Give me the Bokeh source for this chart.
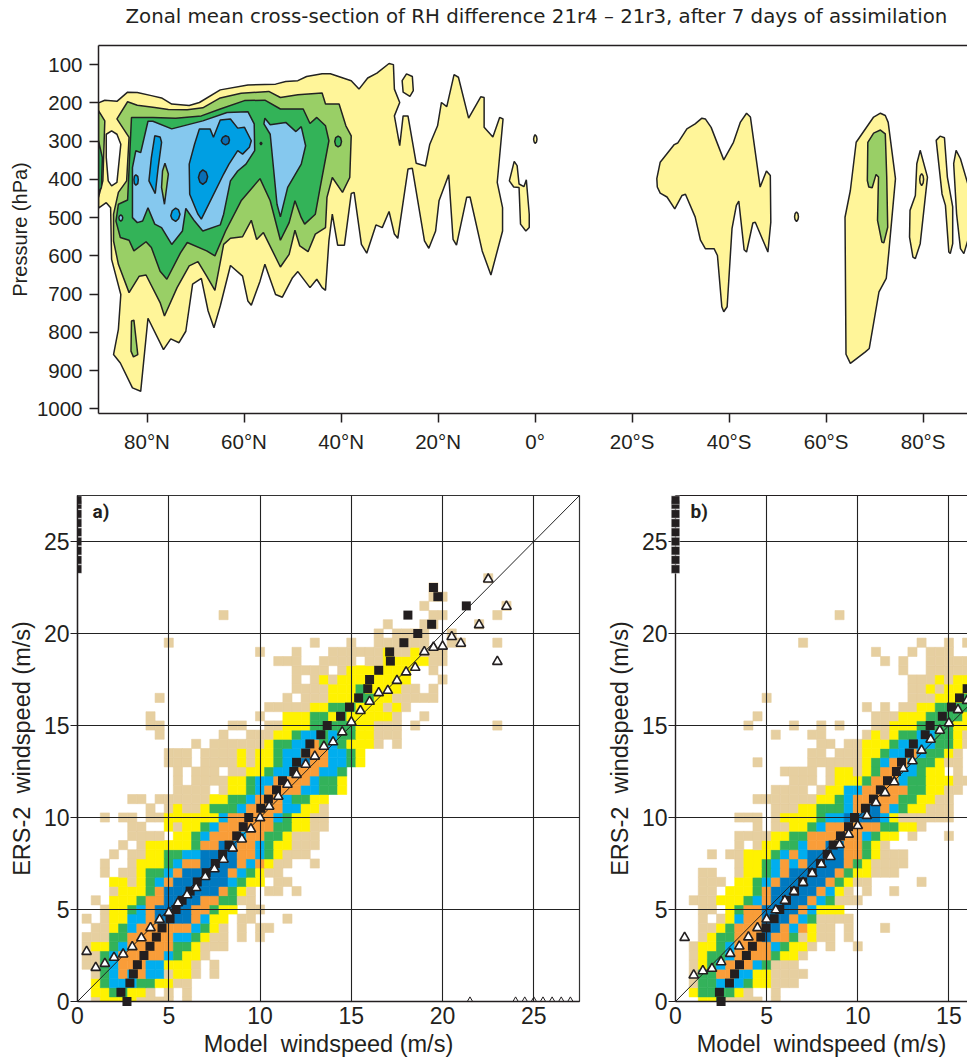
from bokeh.plotting import figure
from bokeh.layouts import column, row
from bokeh.embed import file_html
from bokeh.resources import INLINE
from bokeh.models import (Range1d, FixedTicker, LinearAxis, Label, Slope, Title, ColumnDataSource)

TITLE = "Zonal mean cross-section of RH difference 21r4 \u2013 21r3, after 7 days of assimilation"
PRESSURE_TICKS = [100, 200, 300, 400, 500, 600, 700, 800, 900, 1000]
LAT_TICKS = {80: "80\u00b0N", 60: "60\u00b0N", 40: "40\u00b0N", 20: "20\u00b0N", 0: "0\u00b0",
             -20: "20\u00b0S", -40: "40\u00b0S", -60: "60\u00b0S", -80: "80\u00b0S"}
WIND_TICKS = [0, 5, 10, 15, 20, 25]

YEL, LGR, GRN, LBL, BLU, DBL, WHT = "#FFF599", "#99CF66", "#33B358", "#85C8EE", "#009FE3", "#0A6EB5", "#FFFFFF"

yellow_main = [(90,200),(88.7,193),(86.2,196),(84,172),(82,173),(79.1,181),(77,187),(74.9,203),(71.3,207),(69.2,199),(64.9,166),(59.2,153),(53.5,151),(51.4,144),(48.9,142),(47.1,131),(43.9,124),(42.2,124),(37.9,142),(36.3,164),(34.5,135),(32.6,122),(30.1,97),(29.2,100),(29,164),(27.9,199),(29,234),(27.9,312),(27.2,234),(26.2,234),(24.5,358),(22.6,365),(21.7,308),(20.1,260),(19.3,199),(18.2,210),(16.7,126),(15.8,133),(13.7,240),(11.2,184),(10.5,186),(10.5,264),(8.7,289),(7.3,238),(6.6,242),(7.8,408),(6.7,474),(6.7,535),(9.1,650),(10.9,587),(13.4,446),(14.1,447),(16.2,572),(16.9,557),(17.8,388),(19.8,456),(20.5,535),(21.9,580),(22.8,561),(25.3,371),(26.2,373),(28.3,554),(29,543),(30.1,484),(31.5,526),(32.8,519),(34.7,593),(35.8,570),(37.3,434),(37.9,437),(39.3,572),(40.7,572),(41.8,491),(42.5,561),(43.2,690),(43.9,683),(45,661),(46.4,683),(48.9,641),(50,657),(52.1,708),(53.5,701),(55.7,622),(56.7,666),(58.5,729),(59.2,718),(60.3,653),(62.8,625),(64.9,731),(66.2,788),(67.4,744),(68.8,659),(70.6,674),(72,797),(73.4,827),(75.1,817),(76.6,845),(79.8,763),(81.3,954),(83,945),(85.5,880),(86.9,858),(85.9,792),(85.4,701),(87.3,609),(87.5,474),(88.4,461),(90,475)]
white_hole = [(88.4,282),(87.3,273),(86.2,282),(85.4,308),(86.2,408),(87.3,417),(88,404),(88.4,343)]
yellow_a = [(27.4,142),(26.5,124),(25.3,131),(25.1,168),(25.8,183),(27.2,172)]
yellow_b = [(5.3,404),(4.3,353),(3.7,364),(3.3,412),(2.3,419),(1.8,401),(1.2,491),(1.2,526),(1.9,535),(3,517),(3.3,421),(4.4,420)]
yellow_c = [(0,283),(-0.3,288),(-0.4,295),(-0.3,302),(0,306),(0.2,302),(0.3,295),(0.2,288)]
yellow_d = [(-25.1,398),(-25.8,355),(-28.7,309),(-29.4,305),(-31.3,268),(-33,255),(-34.4,240),(-35.1,242),(-36.3,264),(-38.9,349),(-40.9,303),(-42.3,251),(-43.6,227),(-44.4,237),(-46.4,420),(-47.7,378),(-48.5,390),(-48.6,512),(-48,590),(-45.4,512),(-44.9,514),(-43.6,590),(-43.1,584),(-42,457),(-41.5,468),(-40.6,529),(-39.6,733),(-38.9,746),(-38.5,733),(-37.6,599),(-36.9,581),(-35.1,581),(-34.1,559),(-33,498),(-31,439),(-30.3,442),(-28.8,477),(-27.2,446),(-25.8,436),(-25.2,420)]
yellow_e = [(-53.9,485),(-54.2,490),(-54.3,498),(-54.2,505),(-53.9,510),(-53.6,505),(-53.5,498),(-53.6,490)]
yellow_f = [(-63.9,499),(-65,429),(-66.2,303),(-69.8,237),(-71.2,227),(-72.2,233),(-72.8,251),(-74.3,398),(-72.9,594),(-72.4,659),(-70.9,694),(-68.9,842),(-68.1,851),(-65,881),(-64.1,857)]
yellow_g = [(-78.7,359),(-79.4,324),(-80.9,394),(-79.4,568),(-78.4,607),(-77.9,603),(-77.2,551),(-77.3,481),(-78.4,442)]
yellow_h = [(-79.7,385),(-80,391),(-80.1,400),(-80,410),(-79.7,416),(-79.4,410),(-79.3,400),(-79.4,391)]
yellow_i = [(-82.7,298),(-83.5,287),(-84.4,291),(-85,394),(-86.1,472),(-86.1,568),(-85.6,594),(-85.3,590),(-84.6,468),(-83.9,438)]
yellow_j = [(-86.3,359),(-86.8,324),(-87.7,346),(-89.2,411),(-90,450),(-90,530),(-89.2,560),(-88.4,594),(-87.7,581),(-86.9,490)]
lgreen_main = [(86.2,242),(84,197),(82,206),(78.4,212),(75.6,217),(71.7,218),(68.5,213),(64.9,187),(60.6,175),(54.9,170),(52.5,186),(48.9,179),(43.9,174),(43.2,203),(40.4,203),(39,260),(37.9,286),(38.2,395),(39.7,434),(41.8,395),(42.9,447),(43.2,526),(45.3,543),(46.8,589),(48.5,574),(49.5,533),(50.7,596),(52.5,629),(56,539),(57.4,557),(58.5,507),(60.3,550),(62.8,554),(64.2,570),(66,690),(67.7,653),(69.5,615),(71.3,626),(73.8,683),(76.4,757),(77.3,722),(80.2,650),(81.6,653),(83.7,696),(85.9,622),(86.9,561),(86.9,491),(85.9,434),(84.2,404),(83.7,290)]
lgreen_edge = [(90,220),(88.7,247),(89.1,404),(90,447)]
lgreen_low = [(83.2,770),(82.7,768),(81.9,858),(82.8,864),(83.3,849)]
lgreen_strip = [(76.3,358),(75.6,386),(76.4,465),(77,421),(76.8,378)]
lgreen_south = [(-68.6,303),(-69.8,279),(-71.2,271),(-72.2,281),(-72.5,394),(-72.7,525),(-71.9,566),(-71.5,564),(-70.6,507),(-70.8,394),(-70.3,387),(-69.5,422),(-68.8,420),(-68.5,403)]
green_main = [(83.2,238),(78.8,238),(74.1,240),(68.8,234),(64.9,216),(59.9,194),(55.7,193),(52.5,216),(47.8,216),(46.4,254),(45,238),(43.2,260),(42.5,299),(44.3,421),(45.3,491),(47.5,517),(48.2,500),(49.5,456),(50.7,513),(52.5,559),(54.6,456),(56.7,398),(60.6,456),(63.8,535),(66,600),(67.7,587),(71.7,565),(73.1,592),(75.9,661),(77.3,640),(79.1,578),(80.2,563),(82.7,587),(83.7,559),(85.5,552),(86.4,509),(85.9,465),(84,454)]
green_edge = [(90,299),(89.2,343),(89.4,421),(90,434)]
green_dot = [(40.6,287),(40.1,291),(39.9,301),(40.1,311),(40.6,315),(41.1,311),(41.3,301),(41.1,291)]
green_tiny = [(56.5,303),(56.3,306),(56.5,310),(56.7,306)]
lblue_main = [(79.8,248),(78.8,248),(74.9,268),(68.5,247),(63.5,225),(59.2,223),(57.9,255),(57.8,325),(59.6,360),(61.3,378),(62.8,404),(64.2,491),(64.9,519),(68.5,535),(70.2,509),(72,476),(72.7,535),(74.9,570),(77,526),(78.4,517),(79.8,474),(80.9,509),(82,513),(83,500),(83,369),(82.3,325),(81.3,330)]
lblue_east = [(55.7,240),(54.6,257),(51.4,251),(49.3,275),(48.2,262),(47.3,312),(48.2,360),(51,421),(52.5,498),(53.2,465),(54.6,282),(55.9,255)]
lblue_dot = [(85.4,493),(85.1,496),(85,500),(85.1,506),(85.4,509),(85.7,506),(85.8,500),(85.7,496)]
blue_main = [(69.2,268),(67,268),(66.3,290),(64.9,245),(62.8,242),(61.3,266),(59.9,264),(58.5,299),(58.9,316),(60.3,334),(61.3,325),(63.1,360),(64.2,386),(68.8,504),(69.5,491),(71.2,439),(71.3,360),(70.2,308)]
blue_strip = [(78.4,286),(77.3,289),(77,303),(77.7,369),(78.3,437),(79.6,404),(79.1,343)]
blue_low = [(74.1,475),(73.5,480),(73.2,491),(73.5,503),(74.1,510),(74.8,504),(75.1,495),(74.8,482)]
blue_dot = [(82.3,388),(81.9,392),(81.8,401),(81.9,411),(82.3,415),(82.6,411),(82.7,401),(82.6,392)]
dblue_a = [(63.8,286),(63.2,289),(63,297),(63.2,306),(63.8,310),(64.4,306),(64.7,299),(64.4,290)]
dblue_b = [(68.5,375),(67.8,381),(67.5,393),(67.8,406),(68.5,413),(69.1,407),(69.4,395),(69.1,382)]

CONTOURS = [(yellow_main, YEL), (white_hole, WHT), (yellow_a, YEL), (yellow_b, YEL), (yellow_c, YEL),
            (yellow_d, YEL), (yellow_e, YEL), (yellow_f, YEL), (yellow_g, YEL), (yellow_h, YEL),
            (yellow_i, YEL), (yellow_j, YEL), (lgreen_main, LGR), (lgreen_edge, LGR), (lgreen_low, LGR),
            (lgreen_south, LGR), (green_main, GRN), (green_edge, GRN), (green_dot, GRN), (green_tiny, GRN),
            (lblue_main, LBL), (lblue_east, LBL), (lblue_dot, LBL), (lgreen_strip, LGR), (blue_main, BLU),
            (blue_strip, BLU), (blue_low, BLU), (blue_dot, BLU), (dblue_a, DBL), (dblue_b, DBL)]

# Scatter density: one string per 0.5 m/s ERS-2 bin, one character per 0.5 m/s model bin
CELL_COLOURS = {"T": "#E6CFA0", "Y": "#FFF200", "G": "#33B25A", "B": "#00AEEF", "O": "#F99D39", "D": "#0079C0"}
rows_a = [
"..TYYYYTTTT.T",
"..YYGGYYT.T.T",
"..YGBBBGGYYTT",
"..TGBOBOBBTYYT.T",
".TTGBOOOBBYYYT.T",
".TTGBOOOOOBGYYT",
".TYYGBOOOOOGGYTTT",
".TTTGGOOOOOBBGYTT.T.T",
"..TTYGBOOOOOOBGYT.T.TT",
".T.TYYBBODDDDOBYY.TT...T",
"...TYYGBODDDDOOGYY.TT",
"..T.YYYGOODDDDOOGGTT",
"....TYYYGODDDDDDOGYT.TT.T",
"....YYTYGBODDDDDDBGYY.TT",
"...T.TTYGGBODDDDDOBGYTT",
"...T..TYYYGBOODDDDOBOYTT..T",
"....T.TTYYGGBBDDDDOOBGYTTT",
".....T.TYYYYYGOODDOOBGYYTTT",
"......TTTT.YYGBOOOBOOGGYTTT",
"......TT..YTYYGBOOOOOOGGYYTT",
"...T.TT.TTYYYYYYBOOOOOBGYYTT",
"........T.TYTTYGGGBOOOOBBYYT",
"......TT.TTTTTTYYGGBOOOBGGYY",
"...........TTTT.TYYGBOOOOBBGGY",
"...........T.TTTTYYGBBOOOOBGGY",
"...........T.TTT.TTYYGBBOOOBBG",
"..........TTT.TTTTYTYYGBBDOOBBGY",
"..........TTT.TTTTYTYYGBBOOOBBGY",
".............T.TTTTTTYGGBBOGBGYYYT.T",
".........T......T..TTTYYGBBGBGGYYTTT",
"........TT.......TT..TTYYYGGGGGYYTTT.T........T",
"........T...........T..YYYGGYGYYYYYT..T",
".....................TTTTTYYGGGYYYTYT",
".........T.............T.TTTYYYGGYYTTTTT",
"........................TTTTYYYGYYYYTT.T",
"........................T.TYTYYYYYYYY...T",
"........................TTTT.TYYYYYYY..T",
"......................TTT..TTTT.TTYYYYYTT",
"....................T...T...TTTTTTYTTYTTT",
"..........T...............T...T..TTTTTT..TT...T",
".................................T.TTTT..T",
"..................................T...TT....T",
"................T......................TT.....T",
"......................................T........T",
".......................................TT",
".......................................T",
".............................................T",
]
rows_b = [
"...YYGTTTT.T",
"..YGGGGYT..T",
"..TGGBBBGYYTTT",
"..TGGOOBBYYTTTT",
"..TYGBOOOBGTTT",
"..TYGGBOOOOGYYT",
"..TYYGBOOOOBGYYT.T..T",
"...TYGGOOODOOGTYTT.T",
"...TTYGOOODDOBOYTT.T...T",
"...T.TYBOODDDOBGTTTT",
"...TT.YGOODDDDOBYYY",
"..TTTYYYGBODDDDOBGTTT",
"...TT.YYYGODDDDDOBYT.T..T",
"...TTT.YYGBODDDDDOGYTT.....T",
"...TT..TYYGBODDDDDOGYYTTT",
".......TYYGBOBODDDDOGYTTTT",
"....T.TTYYYGBOBDDDDOOGYTTT",
".......T.TYYGGBOODDOOGYT",
".......TTTTYYGGOOOOOOBGYY.T...T",
".........T.TTYYGBOOOOOOGGYYT",
".......TTT.TYYYYGBBDDDDBYTTTTTT",
"...........TTTYYGGGBODDOBGYYTTT",
".........TTTTTTTYYGBOOOOOGGYYTT",
"...........TTTT.TYYBBOOOOOGGYYTT",
".............TTT.TYYYGOOOBGGYYYTT",
"............TTTT.TYYTYGOOBBGYY.T",
".........T.....TTTTTTYGBOOBGGYTT",
"...............TT.TTTYYGBBOBGGYT",
"................TT.TTYYYGBBBBGGYT",
"...........T...TT....TYTYGGBBGGYT",
"........T....T..T.T...TTYYYGGGGYY",
".........T............TTTYYYGGGGY",
".....................T.T.TTYYGGGG",
"..........T...............TTTYYYG",
"..........................TTYTYYY",
"..........................TTTYTYY",
".........................T..TTTTT",
".......................T.T..TTTTT",
"......................T...T.TTT",
"..............T............T..T.T",
"",
"",
"..................T",
]

square_a_x = [2.71,2.38,2.87,3.06,3.28,3.64,3.97,4.32,4.63,5.07,5.4,5.73,6.17,6.56,7.05,7.55,7.95,8.3,8.72,9.08,9.38,10.04,10.46,10.9,11.23,11.85,12.0,12.5,12.73,13.33,13.68,14.41,14.9,15.4,15.9,16.0,16.5,17.14,17.1,17.88,18.64,19.4,18.1,21.3,19.74,19.5]
square_a_y = [0,0.5,1,1.5,2,2.5,3,3.5,4,4.5,5,5.5,6,6.5,7,7.5,8,8.5,9,9.5,10,10.5,11,11.5,12,12.5,13,13.5,14,14.5,15,15.5,16,16.5,17,17.5,18,18.5,19,19.5,20,20.5,21,21.5,22,22.5]
tri_a_x = [0.5,1,1.5,2,2.5,3,3.5,4,4.5,5,5.5,6,6.5,7,7.5,8,8.5,9,9.5,10,10.5,11,11.5,12,12.5,13,13.5,14,14.5,15,15.5,16,16.5,17,17.5,18,18.5,19,19.5,20,20.5,21,22,22.5,23,23.5]
tri_a_y = [2.71,1.84,2.06,2.39,2.57,2.97,3.45,4.0,4.45,4.83,5.35,5.79,6.18,6.78,7.2,7.72,8.32,8.82,9.37,9.98,10.6,11.14,11.79,12.33,12.88,13.32,13.86,14.1,14.64,15.18,15.8,16.3,16.77,16.9,17.44,17.9,18.15,19.0,19.24,19.3,19.82,19.46,20.47,22.95,18.47,21.47]
edge_tri_x = [21.5,24,24.5,25,25.5,26,26.5,27]
edge_tri_y = [0,0,0,0,0,0,0,0]
edge_sq_y = [23.5,24,24.5,25,25.5,26,26.5,27,27.25]
edge_sq_x = [0,0,0,0,0,0,0,0,0]
square_b_x = [2.5,2.41,2.96,3.24,3.51,3.89,4.22,4.68,4.97,5.41,5.72,6.09,6.53,6.98,7.5,7.95,8.32,8.65,9.05,9.49,9.82,10.42,10.86,11.24,11.63,12.12,12.4,12.83,13.05,13.7,13.97,14.64,15.14,15.58,16.0]
square_b_y = [0,0.5,1,1.5,2,2.5,3,3.5,4,4.5,5,5.5,6,6.5,7,7.5,8,8.5,9,9.5,10,10.5,11,11.5,12,12.5,13,13.5,14,14.5,15,15.5,16,16.5,17]
tri_b_x = [0.5,1,1.5,2,2.5,3,3.5,4,4.5,5,5.5,6,6.5,7,7.5,8,8.5,9,9.5,10,10.5,11,11.5,12,12.5,13,13.5,14,14.5,15,15.5,16]
tri_b_y = [3.47,1.43,1.66,1.79,2.15,2.6,3.0,3.5,4.0,4.47,4.97,5.48,5.97,6.46,6.96,7.45,7.87,8.52,9.08,9.55,10.1,10.8,11.34,11.93,12.66,13.07,13.65,14.24,14.73,15.13,15.85,16.35]

INK = "#231F20"
SANS = "Liberation Sans"

# ---- top panel ----
top = figure(width=967, height=470, output_backend="svg", toolbar_location=None,
             x_range=Range1d(90, -89.15), y_range=Range1d(1012, 50),
             min_border_left=98, min_border_right=0, min_border_top=45, min_border_bottom=57,
             outline_line_color=None)
for pts, col in CONTOURS:
    top.patch([a for a, _ in pts], [b for _, b in pts], fill_color=col, line_color="#222222", line_width=1.5)
top.grid.visible = False
top.xaxis.ticker = FixedTicker(ticks=list(LAT_TICKS))
top.xaxis.major_label_overrides = LAT_TICKS
top.yaxis.ticker = FixedTicker(ticks=PRESSURE_TICKS)
top.yaxis.axis_label = "Pressure (hPa)"
for ax in (top.xaxis[0], top.yaxis[0]):
    ax.major_label_text_font = SANS
    ax.major_label_text_font_size = "20.5px"
    ax.major_label_text_color = INK
    ax.axis_line_color = INK
    ax.axis_line_width = 1.5
    ax.major_tick_line_color = INK
    ax.major_tick_line_width = 1.5
    ax.major_tick_out = 9
    ax.major_tick_in = 0
    ax.minor_tick_line_color = None
    ax.major_label_standoff = 7
top.yaxis.major_label_orientation = "horizontal"
top.yaxis.axis_label_text_font = SANS
top.yaxis.axis_label_text_font_style = "normal"
top.yaxis.axis_label_text_font_size = "20px"
top.yaxis.axis_label_text_color = INK
top.yaxis.axis_label_standoff = 3
top.add_layout(LinearAxis(ticker=FixedTicker(ticks=[]), major_label_text_font_size="0px",
                          axis_line_color=INK, axis_line_width=1.5, major_tick_line_color=None,
                          minor_tick_line_color=None), "above")
top.add_layout(Title(text="\u00a0", text_font_size="1px", standoff=8), "above")
top.add_layout(Title(text=TITLE, text_font="DejaVu Sans", text_font_size="19.8px", text_font_style="normal",
                     text_color=INK, align="left", offset=27, standoff=9, vertical_align="top"), "above")


def wind_panel(rows, sq_x, sq_y, tri_x, tri_y, tag, width, left, right_border, x_range):
    p = figure(width=width, height=589, output_backend="svg", toolbar_location=None,
               x_range=x_range, y_range=Range1d(0, 27.5),
               min_border_left=left, min_border_right=right_border, min_border_top=25, min_border_bottom=58,
               outline_line_color=None)
    xs, ys, cs = [], [], []
    for r, text in enumerate(rows):
        for c, ch in enumerate(text):
            if ch in CELL_COLOURS:
                xs.append(c * 0.5)
                ys.append(r * 0.5)
                cs.append(CELL_COLOURS[ch])
    p.rect(x="x", y="y", width=0.5, height=0.5, fill_color="c", line_color="c", line_width=0.6,
           source=ColumnDataSource(dict(x=xs, y=ys, c=cs)))
    p.xgrid.ticker = FixedTicker(ticks=WIND_TICKS)
    p.ygrid.ticker = FixedTicker(ticks=WIND_TICKS)
    p.xgrid.grid_line_color = "#222222"
    p.ygrid.grid_line_color = "#222222"
    p.xgrid.grid_line_width = 1.1
    p.ygrid.grid_line_width = 1.1
    p.xgrid.level = "guide"
    p.ygrid.level = "guide"
    p.add_layout(Slope(gradient=1, y_intercept=0, line_color="#222222", line_width=1, level="annotation"))
    p.scatter(sq_x, sq_y, marker="square", size=9, fill_color=INK, line_color=INK, line_width=0, level="overlay")
    p.scatter(tri_x, tri_y, marker="triangle", size=9.5, fill_color="white", line_color=INK, line_width=1.6,
              level="overlay")
    p.xaxis.ticker = FixedTicker(ticks=WIND_TICKS)
    p.yaxis.ticker = FixedTicker(ticks=WIND_TICKS)
    p.xaxis.axis_label = "Model\u00a0 windspeed (m/s)"
    p.yaxis.axis_label = "ERS-2\u00a0 windspeed (m/s)"
    for ax in (p.xaxis[0], p.yaxis[0]):
        ax.major_label_text_font = SANS
        ax.major_label_text_font_size = "23px"
        ax.major_label_text_color = INK
        ax.axis_line_color = INK
        ax.axis_line_width = 1.4
        ax.major_tick_line_color = INK
        ax.major_tick_line_width = 1.2
        ax.major_tick_in = 0
        ax.minor_tick_line_color = None
        ax.axis_label_text_font = SANS
        ax.axis_label_text_font_style = "normal"
        ax.axis_label_text_font_size = "23.5px"
        ax.axis_label_text_color = INK
    p.xaxis.major_tick_out = 0
    p.yaxis.major_tick_out = 7
    p.xaxis.major_label_standoff = 5
    p.yaxis.major_label_standoff = 1
    p.xaxis.axis_label_standoff = 4
    p.yaxis.major_label_orientation = "horizontal"
    p.yaxis.axis_label_standoff = 6
    p.add_layout(Label(x=0.82, y=26.0, text=tag, text_font="Roboto", text_font_style="bold",
                       text_font_size="19px", text_color=INK, level="overlay"))
    return p


pa = wind_panel(rows_a, square_a_x, square_a_y, tri_a_x, tri_a_y, "a)", 596, 77, 17, Range1d(0, 27.5))
pa.outline_line_color = "#333333"
pa.outline_line_width = 1.2
pa.scatter(edge_sq_x, edge_sq_y, marker="square", size=8.5, fill_color=INK, line_color="white", line_width=0.4)
pa.scatter(edge_tri_x, edge_tri_y, marker="triangle", size=8, fill_color="white", line_color=INK, line_width=1)

pb = wind_panel(rows_b, square_b_x, square_b_y, tri_b_x, tri_b_y, "b)", 371, 79, 0, Range1d(0, 16.02))
pb.scatter(edge_sq_x, edge_sq_y, marker="square", size=8.5, fill_color=INK, line_color="white", line_width=0.4,
           level="overlay")
pb.add_layout(LinearAxis(ticker=FixedTicker(ticks=[]), major_label_text_font_size="0px", axis_line_color=INK,
                         axis_line_width=1.2, major_tick_line_color=None, minor_tick_line_color=None), "above")

root = column(top, row(pa, pb, spacing=0), spacing=0)
open("out.html", "w").write(file_html(root, INLINE))
